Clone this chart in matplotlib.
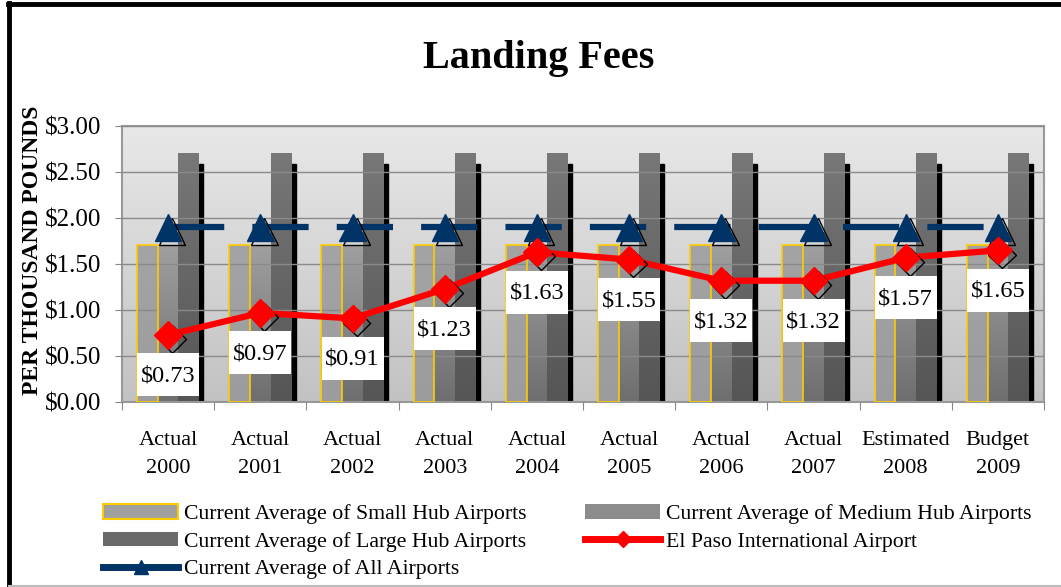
import numpy as np
import matplotlib
matplotlib.use("Agg")
import matplotlib.pyplot as plt
import matplotlib.patheffects as pe
import matplotlib.transforms as mtransforms
from matplotlib.lines import Line2D
from matplotlib.patches import Patch, Rectangle

plt.rcParams['font.family'] = ['Liberation Serif', 'DejaVu Serif']

# data
categories = ["Actual\n2000", "Actual\n2001", "Actual\n2002", "Actual\n2003", "Actual\n2004",
              "Actual\n2005", "Actual\n2006", "Actual\n2007", "Estimated\n2008", "Budget\n2009"]
small_hub = [1.71] * 10
medium_hub = [1.71] * 10
large_hub = [2.71] * 10
all_airports = [1.90] * 10
el_paso = [0.73, 0.97, 0.91, 1.23, 1.63, 1.55, 1.32, 1.32, 1.57, 1.65]

fig = plt.figure(figsize=(10.61, 5.87), dpi=100)
ax = fig.add_axes([0.115, 0.315, 0.869, 0.47])

x = np.arange(len(categories))
w = 0.225

# plot area gradient
grad = np.linspace(0, 1, 256).reshape(-1, 1)
ax.imshow(grad, extent=(-0.5, 9.5, 0, 3), aspect='auto', cmap=matplotlib.colors.LinearSegmentedColormap.from_list(
    'bg', ['#c2c2c2', '#e8e8e8']), origin='lower', zorder=0)


def grad_bars(xs, heights, c_bot, c_top, edge=None, shadow=False):
    cmap = matplotlib.colors.LinearSegmentedColormap.from_list('g', [c_bot, c_top])
    bars = ax.bar(xs, heights, w, color='none', edgecolor=edge if edge else 'none',
                  linewidth=1.2, zorder=3)
    for b in bars:
        bx, by = b.get_x(), b.get_y()
        bw, bh = b.get_width(), b.get_height()
        if shadow:
            ax.add_patch(Rectangle((bx + bw, 0), 0.045, bh - 0.12, color='black', zorder=2))
        im = ax.imshow(grad, extent=(bx, bx + bw, by, by + bh), aspect='auto', cmap=cmap,
                       origin='lower', zorder=2.5)
        im.set_clip_path(b)
    return bars


grad_bars(x - w, small_hub, '#9c9c9c', '#a4a4a4', edge='#ffcc00')
grad_bars(x, medium_hub, '#6e6e6e', '#a0a0a0')
grad_bars(x + w, large_hub, '#555555', '#787878', shadow=True)

ax.set_xlim(-0.5, 9.5)
ax.set_ylim(0, 3)

# all airports average
ax.plot(x, all_airports, color='#003366', lw=4.5, dashes=(9, 4.5), zorder=4)
ax.plot(x, all_airports, ls='none', marker='^', ms=19, color='#003366', zorder=5,
        path_effects=[pe.SimpleLineShadow(offset=(3, -3), shadow_color='black', alpha=1), pe.Normal()])

# El Paso
ax.plot(x, el_paso, color='#ff0000', lw=4.5, zorder=6)
ax.plot(x, el_paso, ls='none', marker='D', ms=14, color='#ff0000', zorder=7,
        path_effects=[pe.SimpleLineShadow(offset=(3, -3), shadow_color='black', alpha=1), pe.Normal()])

# data labels: white box (pixels) 40 px below each marker
for xi, v in zip(x, el_paso):
    tr = mtransforms.Affine2D() + mtransforms.ScaledTranslation(xi, v, ax.transData)
    ax.add_patch(Rectangle((-31, -40 - 21.5), 62, 43, transform=tr, fc='white', ec='none', zorder=8))
    ax.annotate("${:.2f}".format(v), (xi, v), xytext=(0, -41), textcoords='offset pixels',
                ha='center', va='center', fontsize=17.5, zorder=9)

ax.set_yticks(np.arange(0, 3.01, 0.5))
ax.set_yticklabels(["${:.2f}".format(t) for t in np.arange(0, 3.01, 0.5)], fontsize=18)
ax.yaxis.grid(True, color='#8a8a8a', lw=1)
ax.set_axisbelow(False)
for gl in ax.get_ygridlines():
    gl.set_zorder(1)
ax.set_xticks(np.arange(-0.5, 9.6, 1))
ax.set_xticklabels([])
ax.set_xticks(x, minor=True)
ax.set_xticklabels(categories, minor=True, fontsize=16, linespacing=1.65)
ax.tick_params(axis='x', which='minor', length=0, pad=20.5)
ax.tick_params(axis='x', which='major', length=6, color='#888888', direction='out')
ax.tick_params(axis='y', length=5, color='#888888', pad=10)
for s in ax.spines.values():
    s.set_color('#999999')
    s.set_linewidth(1.5)

fig.text(33 / 1061, 1 - 250 / 587, "PER THOUSAND POUNDS", rotation=90, ha='center', va='center',
         fontsize=17, fontweight='bold')

fig.text(0.508, 0.9, "Landing Fees", ha='center', va='center', fontsize=29, fontweight='bold')

# legend
handles = [
    Patch(facecolor='#a0a0a0', edgecolor='#ffcc00', linewidth=1.5),
    Patch(facecolor='#6a6a6a'),
    Line2D([], [], color='#003366', lw=5, marker='^', ms=10),
    Patch(facecolor='#8c8c8c'),
    Line2D([], [], color='#ff0000', lw=5, marker='D', ms=8),
]
labels = ["Current Average of Small Hub Airports", "Current Average of Large Hub Airports",
          "Current Average of All Airports", "Current Average of Medium Hub Airports",
          "El Paso International Airport"]
fig.legend(handles, labels, ncol=2, loc='upper left', bbox_to_anchor=(0.097, 0.141),
           frameon=False, fontsize=15.7, handlelength=3.45, handleheight=0.65, handletextpad=0.25,
           labelspacing=0.35, columnspacing=2.7, borderaxespad=0, borderpad=0)

# outer frame
fig.add_artist(Line2D([0.008, 1.0], [0.9935, 0.9935], color='black', lw=3.5, transform=fig.transFigure))
fig.add_artist(Line2D([0.0085, 0.0085], [0.0, 0.995], color='black', lw=3.5, transform=fig.transFigure))
fig.add_artist(Line2D([0.0085, 1.0], [0.002, 0.002], color='#bbbbbb', lw=1.5, transform=fig.transFigure))

fig.savefig("out.png", dpi=100)
